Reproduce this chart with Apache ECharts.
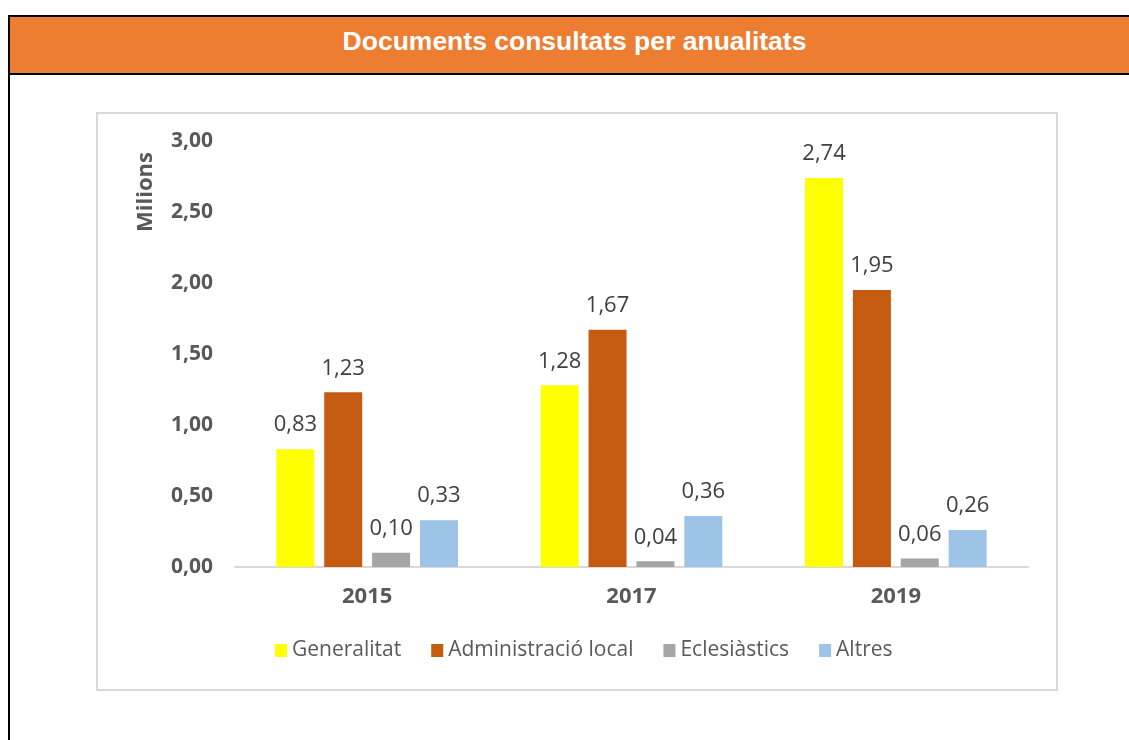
<!DOCTYPE html>
<html>
<head>
<meta charset="utf-8">
<script src="https://cdn.jsdelivr.net/npm/echarts@6/dist/echarts.min.js"></script>
<style>
  html, body { margin: 0; padding: 0; background: #fff; overflow: hidden; }
  body { width: 1129px; height: 740px; position: relative; }
  .frame {
    position: absolute; left: 8px; top: 15px; width: 1133px; height: 760px;
    border: 2px solid #000; box-sizing: border-box;
  }
  .header {
    position: absolute; left: 0; top: 0; right: 0; height: 56px;
    background: #ED7D31; border-bottom: 2px solid #000;
    color: #fff; font: bold 26.5px "Liberation Sans", Arial, sans-serif;
    text-align: center; line-height: 48px;
  }
  .box {
    position: absolute; left: 96px; top: 112px; width: 962px; height: 579px;
    border: 2px solid #d9d9d9; box-sizing: border-box;
  }
  #chart { width: 958px; height: 575px; }
</style>
</head>
<body>
<div class="frame"><div class="header">Documents consultats per anualitats</div></div>
<div class="box"><div id="chart"></div></div>
<script>
const years = ['2015', '2017', '2019']
const generalitat = [0.83, 1.28, 2.74]
const administracioLocal = [1.23, 1.67, 1.95]
const eclesiastics = [0.10, 0.04, 0.06]
const altres = [0.33, 0.36, 0.26]
const yTicks = { min: 0, max: 3, interval: 0.5 }

const fmt = (v) => Number(v).toFixed(2).replace('.', ',')
const font = '"Open Sans", sans-serif'

const mkSeries = (name, data, color) => ({
  type: 'bar',
  name: name,
  data: data,
  barWidth: 38,
  barGap: '26%',
  itemStyle: { color: color },
  label: {
    show: true,
    position: 'top',
    distance: 13,
    formatter: (p) => fmt(p.value),
    color: '#404040',
    fontSize: 22,
    fontFamily: font,
  },
})

const chart = echarts.init(document.getElementById('chart'))
const option = {
  animation: false,
  grid: { left: 137, right: 28, top: 27, bottom: 122 },
  legend: {
    left: 172,
    top: 521,
    itemWidth: 12,
    itemHeight: 13,
    itemGap: 30,
    icon: 'rect',
    textStyle: { color: '#595959', fontSize: 21, fontFamily: font },
    data: ['Generalitat', 'Administració local', 'Eclesiàstics', 'Altres'],
  },
  graphic: [
    {
      type: 'text',
      left: 37,
      top: 38,
      rotation: Math.PI / 2,
      style: { text: 'Milions', fill: '#595959', font: 'bold 22px ' + font },
    },
  ],
  xAxis: {
    type: 'category',
    data: years,
    axisTick: { show: false },
    axisLine: { lineStyle: { color: '#d9d9d9', width: 2 } },
    axisLabel: { color: '#595959', fontSize: 22, fontWeight: 'bold', fontFamily: font, margin: 19 },
  },
  yAxis: {
    type: 'value',
    min: yTicks.min,
    max: yTicks.max,
    interval: yTicks.interval,
    splitLine: { show: false },
    axisLine: { show: false },
    axisLabel: { color: '#595959', fontSize: 21, fontWeight: 'bold', fontFamily: font, margin: 22, formatter: fmt },
  },
  series: [
    mkSeries('Generalitat', generalitat, '#FFFF00'),
    mkSeries('Administració local', administracioLocal, '#C55A11'),
    mkSeries('Eclesiàstics', eclesiastics, '#A5A5A5'),
    mkSeries('Altres', altres, '#9DC3E6'),
  ],
}
chart.setOption(option)
</script>
</body>
</html>
